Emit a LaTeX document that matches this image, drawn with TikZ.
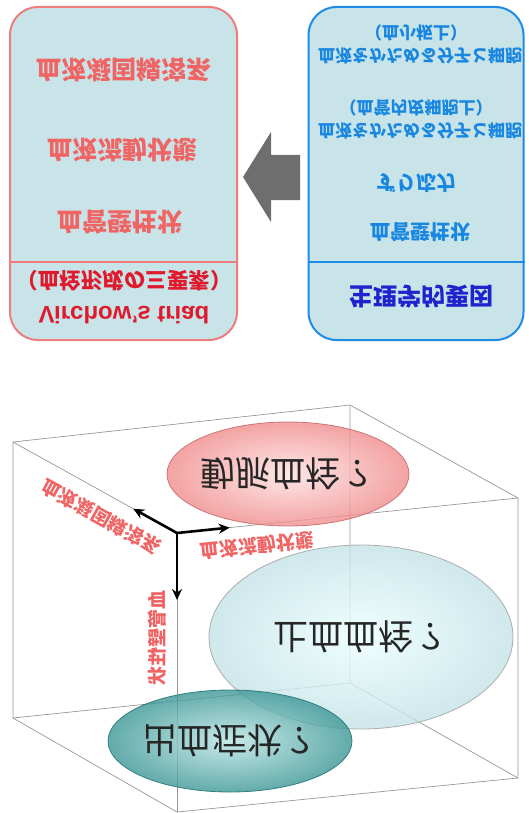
\documentclass[tikz,border=0pt]{standalone}
\usepackage{fontspec}
\setmainfont{Liberation Sans}
\newfontfamily\jp{Noto Sans CJK JP}
\usetikzlibrary{shapes.geometric,arrows.meta,calc}
\definecolor{boxfill}{RGB}{200,228,232}
\definecolor{redline}{RGB}{238,125,125}
\definecolor{redtext}{RGB}{240,100,100}
\definecolor{deepred}{RGB}{225,25,45}
\definecolor{blueline}{RGB}{30,140,230}
\definecolor{bluetext}{RGB}{25,135,225}
\definecolor{darkblue}{RGB}{30,35,205}
\definecolor{arrowgray}{RGB}{110,110,110}
\definecolor{cubegray}{RGB}{150,150,150}
\tikzset{
  panel/.style={draw, line width=2pt, fill=boxfill, rounded corners=28pt, inner sep=0pt},
  redpanel/.style={panel, draw=redline, minimum width=227pt, minimum height=333pt},
  bluepanel/.style={panel, draw=blueline, minimum width=215pt, minimum height=333pt},
  redtxt/.style={text=redtext, font=\jp\bfseries\fontsize{25}{27}\selectfont, inner sep=0pt},
  bluetxt/.style={text=bluetext, font=\jp\bfseries\fontsize{17}{19}\selectfont, inner sep=0pt},
  bluebig/.style={text=bluetext, font=\jp\bfseries\fontsize{20}{22}\selectfont, inner sep=0pt},
  axislabel/.style={text=redtext, font=\jp\bfseries\fontsize{19}{21}\selectfont, inner sep=0pt},
  edge/.style={draw=cubegray, line width=0.7pt},
  axisarrow/.style={line width=2.6pt, -{Stealth[length=11pt,width=10pt]}},
  elltxt/.style={font=\jp\fontsize{35}{37}\selectfont, text=black!85, inner sep=0pt},
  bubble/.style={ellipse, draw, line width=0.8pt, fill opacity=0.8, draw opacity=0.9, inner sep=0pt}
}
\begin{document}
\begin{tikzpicture}[x=1pt,y=1pt,yscale=-1,transform shape]
\useasboundingbox (0,0) rectangle (529,813);
% ---------- left panel ----------
\node[redpanel] (L) at (123.5,173.5) {};
\draw[redline, line width=2pt] (L.west |- 0,262) -- (L.east |- 0,262);
\node[redtxt] (l1) at (124,70) {血液凝固線溶系};
\node[redtxt] (l2) at (122,150) {血液流動状態};
\node[redtxt] (l3) at (120,222) {血管壁性状};
\node[text=deepred, font=\jp\bfseries\fontsize{21.5}{23}\selectfont, inner sep=0pt] (l4) at (124,281) {（血栓形成の三要素）};
\node[text=deepred, font=\bfseries\fontsize{24}{26}\selectfont, inner sep=0pt] (l5) at (124,315) {Virchow's triad};
% ---------- right panel ----------
\node[bluepanel] (R) at (416,173.5) {};
\draw[blueline, line width=2pt] (R.west |- 0,262) -- (R.east |- 0,262);
\node[bluetxt] (r1s) at (416,33) {（血小板上）};
\node[bluetxt] (r1) at (420,56) {血液をかためる分子と細胞};
\node[bluetxt] (r2s) at (416,108) {（血管内皮細胞上）};
\node[bluetxt] (r2) at (420,131) {血液をかためる分子と細胞};
\node[bluebig] (r3) at (416,183) {ずり応力};
\node[bluebig] (r4) at (420,232) {血管壁性状};
\node[text=darkblue, font=\jp\bfseries\fontsize{24}{26}\selectfont, inner sep=0pt] (r5) at (421,297) {生理学的要因};
% ---------- block arrow ----------
\fill[arrowgray] (300,155) -- (271,155) -- (271,132) -- (243,177) -- (271,222) -- (271,200) -- (300,200) -- cycle;
% ---------- cube ----------
\coordinate (B) at (350,405);
\coordinate (A) at (13,442);
\coordinate (C) at (518,498);
\coordinate (D) at (177,533);
\coordinate (Bb) at (350,683);
\coordinate (Ab) at (13,718);
\coordinate (Cb) at (518,778);
\coordinate (Db) at (177,812);
\path[edge] (A) -- (B) -- (C) -- (Cb) -- (Db) -- (Ab) -- cycle;
\path[edge] (A) -- (D) -- (C);
\path[edge] (D) -- (Db);
\path[edge] (B) -- (Bb) -- (Cb);
\path[edge] (Bb) -- (Ab);
% ---------- ellipses ----------
\node[bubble, draw=black!35, inner color=white!92!cyan, outer color={rgb,255:red,196;green,226;blue,230}, minimum width=304pt, minimum height=184pt] (mid) at (361,637) {};
\node[bubble, draw={rgb,255:red,40;green,120;blue,120}, inner color={rgb,255:red,185;green,228;blue,228}, outer color={rgb,255:red,60;green,150;blue,150}, minimum width=244pt, minimum height=102pt] (bot) at (230,741) {};
\node[bubble, draw={rgb,255:red,200;green,110;blue,110}, inner color={rgb,255:red,255;green,225;blue,225}, outer color={rgb,255:red,240;green,140;blue,140}, minimum width=242pt, minimum height=104pt] (top) at (288,474) {};
\node[elltxt] (t1) at (top) {動脈血栓？};
\node[elltxt] (t2) at (mid) {止血血栓？};
\node[elltxt] (t3) at (bot) {出血症状？};
% ---------- axes ----------
\draw[axisarrow] (D) -- ($(D)!50pt!(A)$) coordinate (ax1);
\draw[axisarrow] (D) -- ($(D)!53pt!(C)$) coordinate (ax2);
\draw[axisarrow] (D) -- ($(D)!67pt!(Db)$) coordinate (ax3);
\node[axislabel, rotate=29] (a1) at (101,517) {血液凝固線溶系};
\node[axislabel, rotate=-6] (a2) at (257,546) {血液流動状態};
\node[axislabel, rotate=90] (a3) at (157,638) {血管壁性状};
\end{tikzpicture}
\end{document}
